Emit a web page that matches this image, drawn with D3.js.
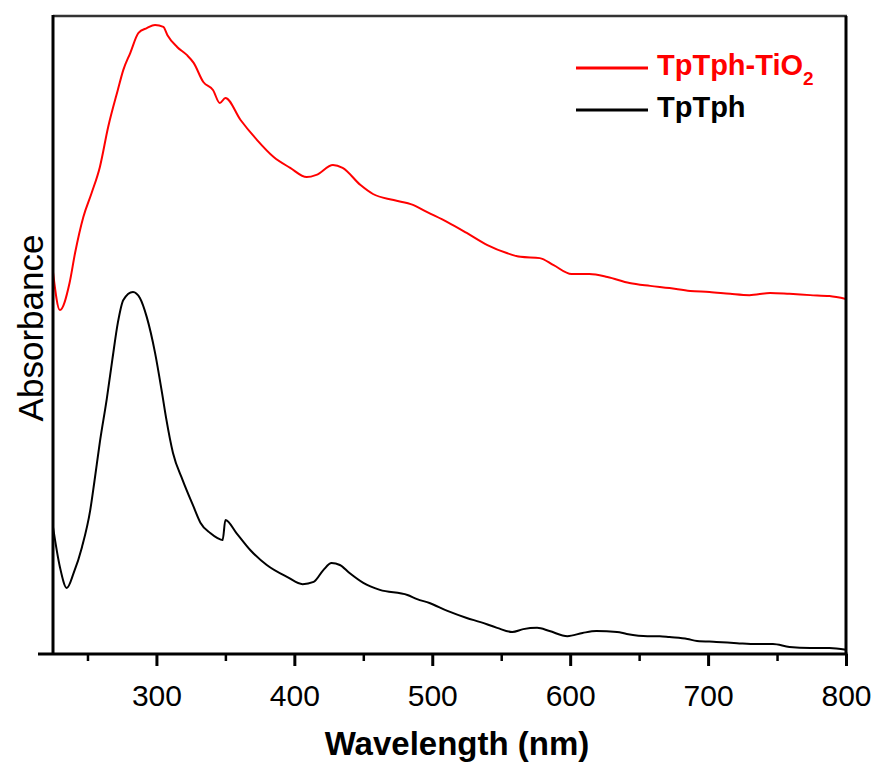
<!DOCTYPE html>
<html>
<head>
<meta charset="utf-8">
<script src="https://cdn.jsdelivr.net/npm/d3@7"></script>
<style>
  body { margin: 0; background: #fff; }
  text { font-family: "Liberation Sans", Arial, sans-serif; }
</style>
</head>
<body>
<div class="canvas"></div>
<script>
// TpTph-TiO2 (red)
const redWave = [225, 230, 237, 241, 247, 253, 259, 265, 272, 276, 281, 287, 293, 299, 305, 308, 315, 322, 327, 334,
    341, 346, 350, 361, 373, 385, 397, 409, 416, 428, 435, 448, 457, 472, 486, 496, 511, 525, 540, 554,
    564, 578, 588, 601, 614, 627, 643, 658, 672, 687, 701, 716, 730, 745, 759, 774, 788, 800];
const redAbs = [1.197, 1.078, 1.163, 1.257, 1.370, 1.445, 1.527, 1.652, 1.768, 1.831, 1.884, 1.947, 1.962, 1.972, 1.966, 1.940, 1.903, 1.878, 1.853, 1.793,
    1.768, 1.727, 1.743, 1.674, 1.611, 1.558, 1.524, 1.495, 1.502, 1.533, 1.524, 1.470, 1.442, 1.423, 1.408, 1.386, 1.354, 1.320, 1.282, 1.257,
    1.245, 1.241, 1.219, 1.191, 1.191, 1.182, 1.163, 1.154, 1.147, 1.138, 1.135, 1.129, 1.125, 1.132, 1.129, 1.125, 1.122, 1.113];

// TpTph (black)
const blackWave = [225, 230, 235, 240, 246, 252, 255, 259, 264, 268, 272, 276, 283, 288, 293, 299, 304, 307, 312, 319,
    327, 332, 339, 344, 348, 350, 358, 368, 380, 395, 406, 414, 421, 427, 433, 440, 450, 462, 482, 489,
    498, 511, 525, 535, 547, 558, 566, 576, 585, 598, 609, 619, 634, 641, 656, 665, 672, 685, 692, 706,
    721, 735, 747, 759, 774, 788, 800];
const blackAbs = [0.398, 0.273, 0.207, 0.254, 0.335, 0.451, 0.540, 0.665, 0.800, 0.922, 1.038, 1.110, 1.135, 1.116, 1.056, 0.944, 0.820, 0.740, 0.630, 0.545,
    0.461, 0.411, 0.379, 0.364, 0.357, 0.420, 0.379, 0.326, 0.279, 0.241, 0.219, 0.226, 0.263, 0.285, 0.279, 0.254, 0.223, 0.201, 0.185, 0.172,
    0.160, 0.135, 0.113, 0.100, 0.082, 0.069, 0.078, 0.082, 0.072, 0.056, 0.066, 0.072, 0.069, 0.063, 0.056, 0.056, 0.053, 0.047, 0.041, 0.038,
    0.034, 0.031, 0.031, 0.022, 0.019, 0.019, 0.013];

const majorTicks = [300, 400, 500, 600, 700, 800];
const minorTicks = [250, 350, 450, 550, 650, 750];

const series = [
    { name: 'TpTph-TiO', sub: '2', color: '#ff0000', wave: redWave, abs: redAbs },
    { name: 'TpTph', sub: '', color: '#000000', wave: blackWave, abs: blackAbs }
];

const width = 878, height = 768;
const plotL = 53, plotR = 846, plotT = 16, plotB = 654;

const svg = d3.select('.canvas')
    .append('svg')
    .attr('width', width)
    .attr('height', height);

const x = d3.scaleLinear().domain([225, 800]).range([plotL, plotR]);
const y = d3.scaleLinear().domain([0, 2]).range([plotB, plotT]);

const line = d3.line()
    .x(d => x(d[0]))
    .y(d => y(d[1]))
    .curve(d3.curveMonotoneX);

series.forEach(s => {
    svg.append('path')
        .datum(s.wave.map((w, i) => [w, s.abs[i]]))
        .attr('fill', 'none')
        .attr('stroke', s.color)
        .attr('stroke-width', 2)
        .attr('stroke-linejoin', 'round')
        .attr('d', line);
});

// frame
svg.append('line').attr('x1', plotL).attr('x2', plotR + 1).attr('y1', plotT).attr('y2', plotT)
    .attr('stroke', '#333').attr('stroke-width', 2.5);
svg.append('line').attr('x1', plotR).attr('x2', plotR).attr('y1', plotT).attr('y2', plotB)
    .attr('stroke', '#000').attr('stroke-width', 3);
svg.append('line').attr('x1', plotL).attr('x2', plotL).attr('y1', plotT - 1).attr('y2', plotB)
    .attr('stroke', '#000').attr('stroke-width', 3);

// x axis
const xAxis = svg.append('g')
    .attr('transform', `translate(0,${plotB})`)
    .call(d3.axisBottom(x).tickValues(majorTicks).tickSize(12).tickPadding(18).tickFormat(d3.format('d')));
xAxis.select('.domain').remove();
xAxis.selectAll('.tick line').attr('stroke', '#000').attr('stroke-width', 3);
xAxis.selectAll('.tick text')
    .attr('fill', '#000')
    .style('font-size', '30px')
    .attr('dy', '0.72em');

const xMinor = svg.append('g')
    .attr('transform', `translate(0,${plotB})`)
    .call(d3.axisBottom(x).tickValues(minorTicks).tickSize(7).tickFormat(''));
xMinor.select('.domain').remove();
xMinor.selectAll('.tick line').attr('stroke', '#000').attr('stroke-width', 2.5);

svg.append('line').attr('x1', 38).attr('x2', plotR + 1.5).attr('y1', plotB).attr('y2', plotB)
    .attr('stroke', '#000').attr('stroke-width', 3);

// axis titles
svg.append('text')
    .attr('x', 457)
    .attr('y', 755)
    .attr('text-anchor', 'middle')
    .style('font-size', '33px')
    .style('font-weight', 'bold')
    .text('Wavelength (nm)');

svg.append('text')
    .attr('transform', 'translate(43,328) rotate(-90)')
    .attr('text-anchor', 'middle')
    .style('font-size', '35px')
    .text('Absorbance');

// legend
const legend = svg.append('g');
series.forEach((s, i) => {
    const ly = 68 + i * 42;
    legend.append('line')
        .attr('x1', 576).attr('x2', 648)
        .attr('y1', ly).attr('y2', ly)
        .attr('stroke', s.color).attr('stroke-width', 3);
    const t = legend.append('text')
        .attr('x', 657)
        .attr('y', ly + 7)
        .attr('fill', s.color)
        .style('font-size', '29px')
        .style('font-weight', 'bold')
        .text(s.name);
    if (s.sub) {
        t.append('tspan')
            .attr('dy', 10)
            .style('font-size', '19px')
            .text(s.sub);
    }
});
</script>
</body>
</html>
